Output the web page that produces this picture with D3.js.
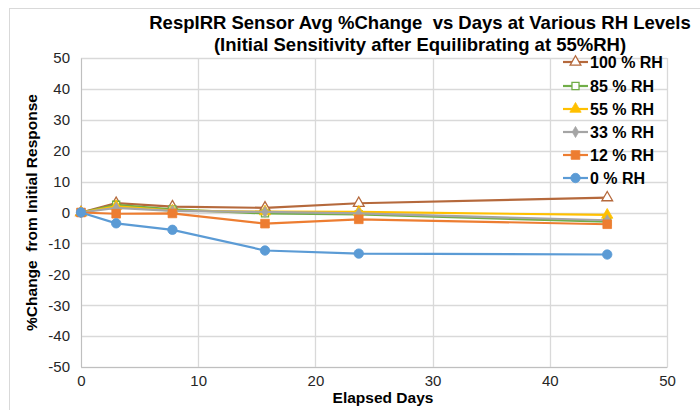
<!DOCTYPE html>
<meta charset="utf-8">
<style>
body { margin: 0; background: #fff; }
svg text { font-family: "Liberation Sans", Arial, sans-serif; fill: #000; }
.tick text { font-size: 15px; fill: #262626; }
.title { font-size: 18.5px; font-weight: bold; text-anchor: middle; white-space: pre; }
.axis-title { font-size: 15.5px; font-weight: bold; text-anchor: middle; white-space: pre; }
.legend text { font-size: 16px; font-weight: bold; }
</style>
<svg width="700" height="410"></svg>
<script src="https://d3js.org/d3.v7.min.js"></script>
<script>

// values
var days = [0, 3, 7.8, 15.7, 23.7, 44.9];
var rh100 = [0, 3.0, 1.9, 1.5, 3.0, 4.8];
var rh85 = [0, 2.5, 1.0, -0.3, -0.6, -3.0];
var rh55 = [0, 2.0, 0.6, 0.3, 0.2, -0.8];
var rh33 = [0, 1.5, 0.5, 0.2, -0.3, -2.5];
var rh12 = [0, -0.4, -0.3, -3.6, -2.2, -3.8];
var rh0 = [0, -3.5, -5.6, -12.3, -13.3, -13.6];
var seriesNames = ["100 % RH", "85 % RH", "55 % RH", "33 % RH", "12 % RH", "0 % RH"];
var xTicks = [0, 10, 20, 30, 40, 50];
var yTicks = [-50, -40, -30, -20, -10, 0, 10, 20, 30, 40, 50];

var series = [
	{name: seriesNames[0], values: rh100, color: "#B5693C", shape: "triangle", hollow: true, size: 50},
	{name: seriesNames[1], values: rh85, color: "#70AD47", shape: "square", hollow: true, size: 50},
	{name: seriesNames[2], values: rh55, color: "#FFC000", shape: "triangle", hollow: false, size: 55},
	{name: seriesNames[3], values: rh33, color: "#A5A5A5", shape: "diamond", hollow: false, size: 35},
	{name: seriesNames[4], values: rh12, color: "#ED7D31", shape: "square", hollow: false, size: 75},
	{name: seriesNames[5], values: rh0, color: "#5B9BD5", shape: "circle", hollow: false, size: 70}
];

var svg = d3.select("svg");
var plotL = 81, plotR = 667, plotT = 58, plotB = 367;

// outer chart frame
svg.append("rect")
	.attr("x", 9.5).attr("y", 8.5)
	.attr("width", 700).attr("height", 410)
	.attr("fill", "none").attr("stroke", "#D9D9D9");

var x = d3.scaleLinear().domain([0, 50]).range([plotL, plotR]);
var y = d3.scaleLinear().domain([-50, 50]).range([plotB, plotT]);

// grid
svg.append("g").selectAll("line").data(yTicks).enter().append("line")
	.attr("x1", plotL).attr("x2", plotR)
	.attr("y1", d => Math.round(y(d)) + 0.5).attr("y2", d => Math.round(y(d)) + 0.5)
	.attr("stroke", "#D9D9D9").attr("stroke-width", 1.3);
svg.append("g").selectAll("line").data(xTicks).enter().append("line")
	.attr("y1", plotT).attr("y2", plotB)
	.attr("x1", d => Math.round(x(d)) + 0.5).attr("x2", d => Math.round(x(d)) + 0.5)
	.attr("stroke", "#D9D9D9").attr("stroke-width", 1.3);

// axes (plain hyphen minus like the original)
var xAxis = svg.append("g")
	.attr("transform", "translate(0," + plotB + ")")
	.call(d3.axisBottom(x).tickValues(xTicks).tickFormat(d => String(d)).tickSize(0).tickPadding(8));
xAxis.select(".domain").attr("stroke", "#BFBFBF");

var yAxis = svg.append("g")
	.attr("transform", "translate(" + plotL + ",0)")
	.call(d3.axisLeft(y).tickValues(yTicks).tickFormat(d => String(d)).tickSize(0).tickPadding(11));
yAxis.select(".domain").attr("stroke", "#BFBFBF");

// titles
svg.append("text").attr("class", "title").attr("x", 420).attr("y", 29)
	.text("RespIRR Sensor Avg %Change  vs Days at Various RH Levels");
svg.append("text").attr("class", "title").attr("x", 420).attr("y", 51)
	.text("(Initial Sensitivity after Equilibrating at 55%RH)");
svg.append("text").attr("class", "axis-title").attr("x", 383).attr("y", 403)
	.text("Elapsed Days");
svg.append("text").attr("class", "axis-title")
	.attr("transform", "translate(37," + y(0) + ") rotate(-90)")
	.text("%Change  from Initial Response");

function symbolType(s) {
	if (s == "triangle") return d3.symbolTriangle;
	if (s == "square") return d3.symbolSquare;
	if (s == "diamond") return d3.symbolDiamond;
	return d3.symbolCircle;
}

var line = d3.line()
	.x((d, i) => x(days[i]))
	.y(d => y(d));

// series
series.forEach(function(s) {
	var g = svg.append("g");
	g.append("path")
		.attr("d", line(s.values))
		.attr("fill", "none")
		.attr("stroke", s.color)
		.attr("stroke-width", 2.2);
	var sym = d3.symbol().type(symbolType(s.shape)).size(s.size);
	g.selectAll("path.pt").data(s.values).enter().append("path")
		.attr("class", "pt")
		.attr("d", sym)
		.attr("transform", (d, i) => "translate(" + x(days[i]) + "," + y(d) + ")")
		.attr("fill", s.hollow ? "#fff" : s.color)
		.attr("stroke", s.color)
		.attr("stroke-width", s.hollow ? 1.3 : 0.8);
});

// legend
var legY = [62, 86, 109, 132, 155, 178];
var leg = svg.append("g").attr("class", "legend");
series.forEach(function(s, i) {
	var g = leg.append("g").attr("transform", "translate(563," + legY[i] + ")");
	g.append("line").attr("x1", 0).attr("x2", 25).attr("y1", 0).attr("y2", 0)
		.attr("stroke", s.color).attr("stroke-width", 2.2);
	g.append("path")
		.attr("d", d3.symbol().type(symbolType(s.shape)).size(s.size)())
		.attr("transform", "translate(12.5,0)")
		.attr("fill", s.hollow ? "#fff" : s.color)
		.attr("stroke", s.color)
		.attr("stroke-width", s.hollow ? 1.3 : 0.8);
	g.append("text").attr("x", 27).attr("y", 5.5).text(s.name);
});

</script>
